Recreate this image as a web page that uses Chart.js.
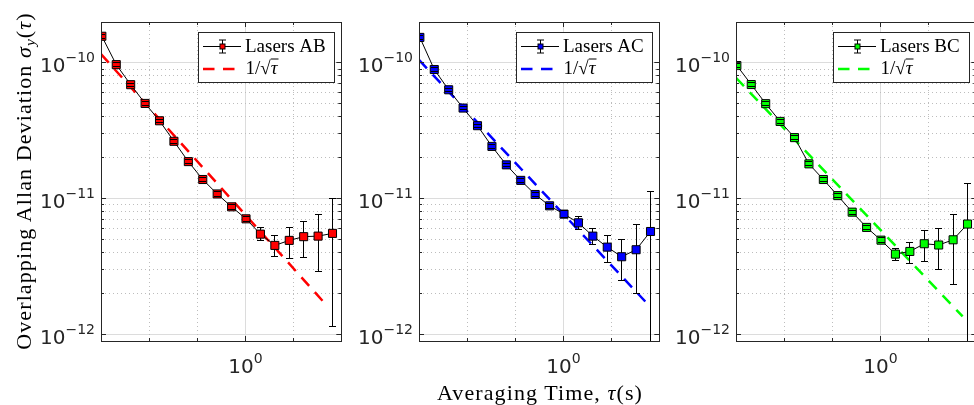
<!DOCTYPE html>
<html>
<head>
<meta charset="utf-8">
<title>Overlapping Allan Deviation</title>
<script src="https://cdn.jsdelivr.net/npm/chart.js@4.4.1/dist/chart.umd.min.js"></script>
<style>
    html, body { margin: 0; padding: 0; background: #fff; }
    body { position: relative; width: 974px; height: 405px; overflow: hidden; }
    canvas { position: absolute; top: 0; }
    .axis-title {
        position: absolute; width: 400px; text-align: center; white-space: nowrap;
        font-family: "Liberation Serif", serif; font-size: 22px; line-height: 1;
        letter-spacing: 1.1px; color: #000;
    }
    .axis-title i { font-style: italic; }
    .axis-title sub { font-size: 0.7em; line-height: 0; vertical-align: -0.25em; font-style: italic; }
    #yTitle { left: -176px; top: 170px; transform: rotate(-90deg); }
    #xTitle { left: 340px; top: 382px; }
</style>
</head>
<body>
<canvas id="panelAB" width="317" height="405" style="left:31px"></canvas>
<canvas id="panelAC" width="317" height="405" style="left:349px"></canvas>
<canvas id="panelBC" width="317" height="405" style="left:666px"></canvas>
<div class="axis-title" id="yTitle">Overlapping Allan Deviation <i>σ</i><sub>y</sub>(<i>τ</i>)</div>
<div class="axis-title" id="xTitle">Averaging Time, <i>τ</i>(s)</div>
<script>
// averaging times (s)
const tau = [0.001, 0.002, 0.004, 0.008, 0.016, 0.032, 0.064, 0.128, 0.256, 0.512,
    1.024, 2.048, 4.096, 8.192, 16.384, 32.768, 65.536];

// Lasers AB
const devAB = [1.57e-10, 9.7e-11, 6.9e-11, 5.02e-11, 3.74e-11, 2.64e-11, 1.87e-11, 1.38e-11, 1.08e-11,
    8.68e-12, 7.08e-12, 5.46e-12, 4.51e-12, 4.91e-12, 5.23e-12, 5.28e-12, 5.53e-12];
const hiAB = [1.62e-10, 1.0e-10, 7.1e-11, 5.17e-11, 3.85e-11, 2.72e-11, 1.93e-11, 1.43e-11, 1.12e-11,
    9.0e-12, 7.4e-12, 6.08e-12, 5.35e-12, 6.12e-12, 6.78e-12, 7.67e-12, 9.93e-12];
const loAB = [1.52e-10, 9.4e-11, 6.7e-11, 4.87e-11, 3.63e-11, 2.56e-11, 1.81e-11, 1.33e-11, 1.04e-11,
    8.36e-12, 6.76e-12, 4.93e-12, 3.75e-12, 3.64e-12, 3.68e-12, 2.88e-12, 1.14e-12];

// Lasers AC
const devAC = [1.54e-10, 8.93e-11, 6.33e-11, 4.64e-11, 3.44e-11, 2.42e-11, 1.77e-11, 1.36e-11, 1.07e-11,
    8.83e-12, 7.67e-12, 6.62e-12, 5.28e-12, 4.38e-12, 3.72e-12, 4.19e-12, 5.71e-12];
const hiAC = [1.59e-10, 9.2e-11, 6.52e-11, 4.78e-11, 3.54e-11, 2.49e-11, 1.82e-11, 1.40e-11, 1.11e-11,
    9.2e-12, 8.1e-12, 7.33e-12, 5.97e-12, 5.35e-12, 5.0e-12, 6.4e-12, 1.12e-11];
const loAC = [1.49e-10, 8.66e-11, 6.14e-11, 4.5e-11, 3.34e-11, 2.35e-11, 1.72e-11, 1.32e-11, 1.03e-11,
    8.46e-12, 7.25e-12, 5.92e-12, 4.59e-12, 3.40e-12, 2.49e-12, 1.98e-12, 5e-13];

// Lasers BC
const devBC = [9.55e-11, 6.92e-11, 5.0e-11, 3.7e-11, 2.81e-11, 1.8e-11, 1.38e-11, 1.05e-11, 7.93e-12,
    6.12e-12, 4.93e-12, 3.89e-12, 4.07e-12, 4.64e-12, 4.54e-12, 4.96e-12, 6.48e-12];
const hiBC = [9.85e-11, 7.13e-11, 5.15e-11, 3.81e-11, 2.9e-11, 1.86e-11, 1.42e-11, 1.09e-11, 8.2e-12,
    6.35e-12, 5.15e-12, 4.28e-12, 4.74e-12, 5.85e-12, 6.05e-12, 7.57e-12, 1.29e-11];
const loBC = [9.25e-11, 6.71e-11, 4.85e-11, 3.59e-11, 2.72e-11, 1.74e-11, 1.34e-11, 1.01e-11, 7.66e-12,
    5.89e-12, 4.71e-12, 3.47e-12, 3.33e-12, 3.44e-12, 3.01e-12, 2.34e-12, 5e-13];

// 1/sqrt(tau) reference lines (end points)
const fitTauAB = [0.00096, 51.8], fitAB = [1.16e-10, 1.6e-12];
const fitTauAC = [0.00096, 51.0], fitAC = [1.05e-10, 1.74e-12];
const fitTauBC = [0.00096, 51.8], fitBC = [7.76e-11, 1.35e-12];

// axes
const X_MIN = 0.00096, X_MAX = 100;
const Y_MIN = 8.9e-13, Y_MAX = 2e-10;
const xMajor = [1];
const xMinor = [0.01, 0.1, 10];
const yMajor = [1e-12, 1e-11, 1e-10];
const yMinor = [2e-12, 3e-12, 4e-12, 5e-12, 6e-12, 7e-12, 8e-12, 9e-12,
    2e-11, 3e-11, 4e-11, 5e-11, 6e-11, 7e-11, 8e-11, 9e-11, 2e-10];

const AXIS_COLOR = '#262626';
const GRID_MAJOR = '#dcdcdc';
const GRID_MINOR = '#bdbdbd';
const SERIF = '"Liberation Serif", serif';
const SANS = '"DejaVu Sans", sans-serif';

function crisp(v) {
    return Math.round(v - 0.5) + 0.5;
}

function expText(v) {
    const e = Math.round(Math.log10(v));
    return (e < 0 ? '\u2212' : '') + Math.abs(e);
}

function drawLegend(ctx, a, name, color) {
    const bx = a.left + 97, by = a.top + 10, bw = 136, bh = 50;
    ctx.save();
    ctx.fillStyle = '#fff';
    ctx.fillRect(bx, by, bw, bh);
    ctx.strokeStyle = AXIS_COLOR;
    ctx.lineWidth = 1;
    ctx.strokeRect(crisp(bx), crisp(by), bw, bh);

    // errorbar sample
    const ly = crisp(by + 14), cx = crisp(bx + 24);
    ctx.strokeStyle = '#000';
    ctx.beginPath();
    ctx.moveTo(bx + 5, ly); ctx.lineTo(bx + 43, ly);
    ctx.moveTo(cx, ly - 6.5); ctx.lineTo(cx, ly + 6.5);
    ctx.moveTo(cx - 3.5, ly - 6.5); ctx.lineTo(cx + 3.5, ly - 6.5);
    ctx.moveTo(cx - 3.5, ly + 6.5); ctx.lineTo(cx + 3.5, ly + 6.5);
    ctx.stroke();
    ctx.fillStyle = color;
    ctx.fillRect(cx - 2.5, ly - 2.5, 5, 5);
    ctx.strokeRect(cx - 2.5, ly - 2.5, 5, 5);

    // dashed sample
    ctx.strokeStyle = color;
    ctx.lineWidth = 2.5;
    ctx.setLineDash([11.5, 8.5]);
    ctx.beginPath();
    ctx.moveTo(bx + 5, by + 37); ctx.lineTo(bx + 37, by + 37);
    ctx.stroke();
    ctx.setLineDash([]);

    ctx.fillStyle = '#000';
    ctx.textAlign = 'left';
    ctx.textBaseline = 'alphabetic';
    ctx.font = '19px ' + SERIF;
    ctx.fillText(name, bx + 47, by + 20);

    // 1/sqrt(tau)
    const base = by + 41.5;
    let tx = bx + 47.5;
    ctx.fillText('1/', tx, base);
    tx += ctx.measureText('1/').width;
    const rad = ctx.measureText('\u221A');
    ctx.fillText('\u221A', tx, base);
    const barY = base - rad.actualBoundingBoxAscent + 0.5;
    const barX = tx + rad.actualBoundingBoxRight - 0.5;
    tx += rad.width;
    ctx.font = 'italic 19px ' + SERIF;
    const tw = ctx.measureText('\u03C4').width;
    ctx.fillText('\u03C4', tx, base);
    ctx.strokeStyle = '#000';
    ctx.lineWidth = 1;
    ctx.beginPath();
    ctx.moveTo(barX, barY); ctx.lineTo(tx + tw + 1, barY);
    ctx.stroke();
    ctx.restore();
}

function matlabLook(name, color, hi, lo) {
    return {
        id: 'matlabLook',
        beforeDatasetsDraw(chart) {
            const {ctx, chartArea: a, scales: {x, y}} = chart;
            ctx.save();
            ctx.strokeStyle = GRID_MINOR;
            ctx.lineWidth = 1;
            ctx.setLineDash([1, 3]);
            ctx.beginPath();
            xMinor.forEach(v => {
                const px = crisp(x.getPixelForValue(v));
                ctx.moveTo(px, a.top); ctx.lineTo(px, a.bottom);
            });
            yMinor.forEach(v => {
                const py = crisp(y.getPixelForValue(v));
                ctx.moveTo(a.left, py); ctx.lineTo(a.right, py);
            });
            ctx.stroke();
            ctx.restore();
        },
        beforeDatasetDraw(chart, args) {
            if (args.index !== 0) return;
            // vertical part of the error bars goes under the markers
            const {ctx, chartArea: a, scales: {x, y}} = chart;
            ctx.save();
            ctx.beginPath();
            ctx.rect(a.left, a.top, a.right - a.left, a.bottom - a.top);
            ctx.clip();
            ctx.strokeStyle = '#000';
            ctx.lineWidth = 1;
            ctx.beginPath();
            tau.forEach((t, i) => {
                const px = crisp(x.getPixelForValue(t));
                ctx.moveTo(px, y.getPixelForValue(hi[i]));
                ctx.lineTo(px, y.getPixelForValue(lo[i]));
            });
            ctx.stroke();
            ctx.restore();
        },
        afterDatasetDraw(chart, args) {
            if (args.index !== 0) return;
            const {ctx, chartArea: a, scales: {x, y}} = chart;
            ctx.save();
            ctx.beginPath();
            ctx.rect(a.left, a.top, a.right - a.left, a.bottom - a.top);
            ctx.clip();
            ctx.strokeStyle = '#000';
            ctx.lineWidth = 1;
            ctx.beginPath();
            tau.forEach((t, i) => {
                const px = crisp(x.getPixelForValue(t));
                [hi[i], lo[i]].forEach(v => {
                    const py = crisp(y.getPixelForValue(v));
                    ctx.moveTo(px - 3.5, py); ctx.lineTo(px + 3.5, py);
                });
            });
            ctx.stroke();
            ctx.restore();
        },
        afterDatasetsDraw(chart) {
            const {ctx, chartArea: a, scales: {x, y}} = chart;
            ctx.save();
            // box and inward ticks on all four sides
            ctx.strokeStyle = AXIS_COLOR;
            ctx.lineWidth = 1;
            ctx.beginPath();
            xMajor.concat(xMinor).forEach(v => {
                const len = xMajor.includes(v) ? 5 : 3;
                const px = crisp(x.getPixelForValue(v));
                ctx.moveTo(px, a.bottom); ctx.lineTo(px, a.bottom - len);
                ctx.moveTo(px, a.top); ctx.lineTo(px, a.top + len);
            });
            yMajor.concat(yMinor).forEach(v => {
                const len = yMajor.includes(v) ? 5 : 3;
                const py = crisp(y.getPixelForValue(v));
                ctx.moveTo(a.left, py); ctx.lineTo(a.left + len, py);
                ctx.moveTo(a.right, py); ctx.lineTo(a.right - len, py);
            });
            ctx.stroke();
            ctx.strokeRect(crisp(a.left), crisp(a.top), Math.round(a.right - a.left), Math.round(a.bottom - a.top));

            // tick labels 10^n
            ctx.fillStyle = AXIS_COLOR;
            ctx.textAlign = 'left';
            ctx.textBaseline = 'alphabetic';
            yMajor.forEach(v => {
                const py = y.getPixelForValue(v);
                const e = expText(v);
                ctx.font = '14px ' + SANS;
                const we = ctx.measureText(e).width;
                const right = a.left - 6;
                ctx.fillText(e, right - we, py - 0.5);
                ctx.font = '20px ' + SANS;
                const wm = ctx.measureText('10').width;
                ctx.fillText('10', right - we - wm, py + 9.5);
            });
            xMajor.forEach(v => {
                const px = x.getPixelForValue(v);
                const e = expText(v);
                ctx.font = '14px ' + SANS;
                const we = ctx.measureText(e).width;
                ctx.font = '20px ' + SANS;
                const wm = ctx.measureText('10').width;
                const left = px - (wm + we) / 2;
                ctx.fillText('10', left, a.bottom + 32);
                ctx.font = '14px ' + SANS;
                ctx.fillText(e, left + wm, a.bottom + 22);
            });
            ctx.restore();

            drawLegend(ctx, a, name, color);
        }
    };
}

function makePanel(id, name, color, dev, hi, lo, fitTau, fit) {
    const ctx = document.getElementById(id).getContext('2d');
    return new Chart(ctx, {
        type: 'line',
        data: {
            datasets: [{
                label: name,
                data: tau.map((t, i) => ({x: t, y: dev[i]})),
                borderColor: '#000',
                borderWidth: 1,
                pointStyle: 'rect',
                pointRadius: 5.7,
                pointBackgroundColor: color,
                pointBorderColor: '#000',
                pointBorderWidth: 1,
                order: 1
            }, {
                label: '1/\u221A\u03C4',
                data: fitTau.map((t, i) => ({x: t, y: fit[i]})),
                borderColor: color,
                borderWidth: 2.5,
                borderDash: [11.5, 8.5],
                pointRadius: 0,
                order: 2
            }]
        },
        options: {
            responsive: false,
            animation: false,
            devicePixelRatio: 1,
            layout: {padding: {top: 22, right: 6, left: 0, bottom: 0}},
            plugins: {legend: {display: false}, tooltip: {enabled: false}},
            scales: {
                x: {
                    type: 'logarithmic',
                    bounds: 'data',
                    min: X_MIN,
                    max: X_MAX,
                    afterBuildTicks: s => { s.ticks = xMajor.map(v => ({value: v})); },
                    afterFit: s => { s.height = 64; },
                    ticks: {display: false},
                    grid: {color: GRID_MAJOR, drawTicks: false},
                    border: {display: false}
                },
                y: {
                    type: 'logarithmic',
                    bounds: 'data',
                    min: Y_MIN,
                    max: Y_MAX,
                    afterBuildTicks: s => { s.ticks = yMajor.map(v => ({value: v})); },
                    afterFit: s => { s.width = 70; },
                    ticks: {display: false},
                    grid: {color: GRID_MAJOR, drawTicks: false},
                    border: {display: false}
                }
            }
        },
        plugins: [matlabLook(name, color, hi, lo)]
    });
}

makePanel('panelAB', 'Lasers AB', '#ff0000', devAB, hiAB, loAB, fitTauAB, fitAB);
makePanel('panelAC', 'Lasers AC', '#0000ff', devAC, hiAC, loAC, fitTauAC, fitAC);
makePanel('panelBC', 'Lasers BC', '#00ff00', devBC, hiBC, loBC, fitTauBC, fitBC);
</script>
</body>
</html>
